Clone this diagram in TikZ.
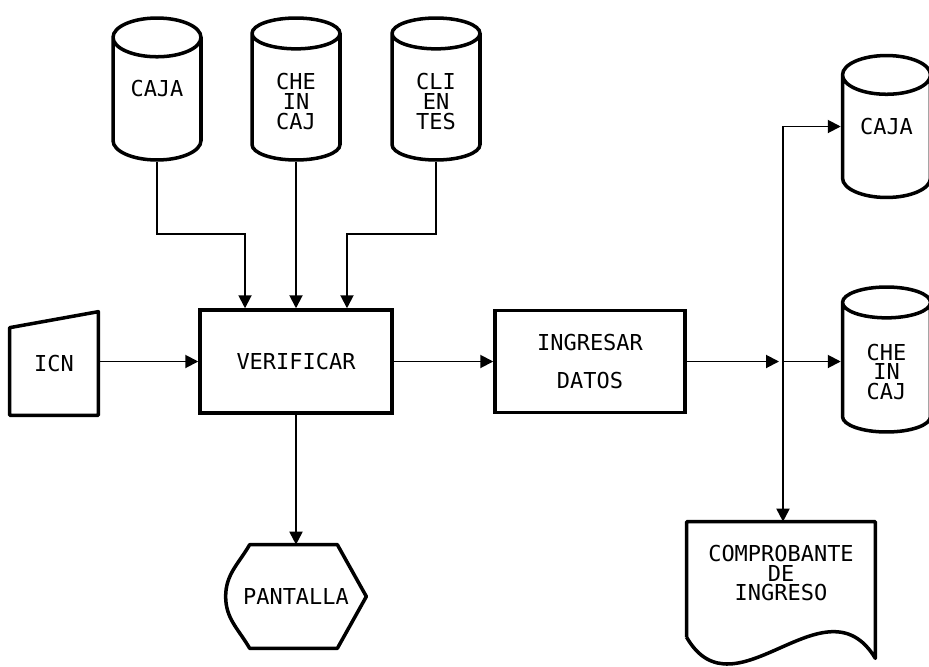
\documentclass[tikz,border=0pt]{standalone}
\usepackage{fontspec}
\setmainfont{DejaVu Sans Mono}
\usetikzlibrary{arrows.meta, positioning, calc, shapes.geometric}

\begin{document}
\begin{tikzpicture}[x=0.02cm, y=-0.02cm,
    texto/.style={font=\fontsize{12.5}{11.3}\selectfont, align=center},
    archivo/.style={texto, cylinder, shape border rotate=90, draw, line width=2pt,
        minimum width=1.76cm, minimum height=2.84cm, shape aspect=0.6, anchor=shape center},
    proceso/.style={texto, draw, line width=2pt, rectangle},
    forma/.style={texto, rectangle, inner sep=0pt},
    borde/.style={line width=2pt, line join=round},
    flujo/.style={line width=1.1pt, -{Triangle[length=0.26cm, width=0.26cm]}}]
    \useasboundingbox (0, 0) rectangle (929, 666);

    % Archivos de entrada
    \node[archivo] (caja) at (157, 89) {\raisebox{0.15cm}[0pt][0pt]{CAJA}};
    \node[archivo] (cheincaj) at (296, 89) {CHE\\IN\\CAJ};
    \node[archivo] (clientes) at (436, 89) {CLI\\EN\\TES};

    % Procesos
    \node[proceso, minimum width=3.84cm, minimum height=2.06cm] (verificar) at (296, 361.5) {VERIFICAR};
    \node[proceso, minimum width=3.8cm, minimum height=2.04cm] (ingresar) at (590, 361.5) {INGRESAR\\[10pt]DATOS};

    % Entrada manual
    \node[forma, minimum width=1.76cm, minimum height=2.06cm] (icn) at (54, 363.5) {ICN};
    \draw[borde] (icn.south west) -- ([yshift=-0.32cm]icn.north west) -- (icn.north east)
        -- (icn.south east) -- cycle;

    % Pantalla
    \node[forma, minimum width=2.8cm, minimum height=2.06cm] (pantalla) at (296, 596.5) {PANTALLA};
    \draw[borde] ([xshift=0.48cm]pantalla.north west) -- ([xshift=-0.58cm]pantalla.north east)
        -- (pantalla.east) -- ([xshift=-0.58cm]pantalla.south east)
        -- ([xshift=0.48cm]pantalla.south west) to[out=120, in=-90] (pantalla.west)
        to[out=90, in=-120] cycle;

    % Archivos de salida
    \node[archivo] (caja2) at (886.5, 126.5) {\raisebox{0.15cm}[0pt][0pt]{CAJA}};
    \node[archivo, minimum height=2.9cm] (cheincaj2) at (886.5, 359.5) {CHE\\IN\\CAJ};

    % Comprobante
    \node[forma, minimum width=3.76cm, minimum height=2.04cm] (comprobante) at (781, 573)
        {COMPROBANTE\\DE\\INGRESO};
    \draw[borde] ([yshift=-0.26cm]comprobante.south west) -- (comprobante.north west)
        -- (comprobante.north east) -- ([yshift=-0.68cm]comprobante.south east)
        .. controls +(-50, -83) and +(48, 83) .. ([yshift=-0.26cm]comprobante.south west);

    % Flujos
    \coordinate (junta) at (783, 361.5);
    \draw[flujo] (caja.south) -- ++(0, 72) -| ([xshift=-1.02cm]verificar.north);
    \draw[flujo] (cheincaj.south) -- (verificar.north);
    \draw[flujo] (clientes.south) -- ++(0, 72) -| ([xshift=1.02cm]verificar.north);
    \draw[flujo] (icn.east |- verificar.west) -- (verificar.west);
    \draw[flujo] (verificar.south) -- (pantalla.north);
    \draw[flujo] (verificar.east) -- (ingresar.west);
    \draw[flujo, shorten >=0.08cm] (ingresar.east) -- (junta);
    \draw[flujo] (junta) |- (caja2.shape center -| caja2.west);
    \draw[flujo] (junta) -- (junta -| cheincaj2.west);
    \draw[flujo] (junta) -- (junta |- comprobante.north);
\end{tikzpicture}
\end{document}
